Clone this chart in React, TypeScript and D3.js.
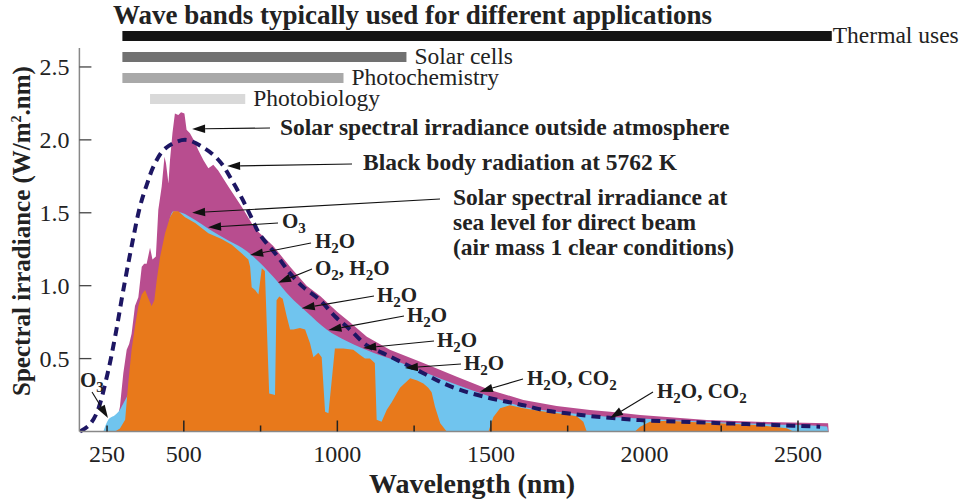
import React from 'react';
import * as d3 from 'd3';

type Pt = [number, number];

// wavelength (nm), spectral irradiance (W/m².nm)
const outsideAtmosphere: Pt[] = [
  [200, 0], [233, 0], [260, 0.01], [280, 0.05], [292, 0.17], [303, 0.4], [314, 0.56], [322, 0.6],
  [330, 0.67], [341, 0.86], [352, 0.92], [363, 1.13], [371, 1.15], [379, 1.15], [390, 1.26],
  [398, 1.18], [409, 1.2], [417, 1.52], [428, 1.68], [437, 1.885], [442, 1.84], [450, 1.7],
  [455, 1.86], [463, 2.045], [471, 2.18], [482, 2.17], [491, 2.19], [502, 2.18], [509, 2.07],
  [520, 2.045], [537, 1.98], [547, 1.93], [564, 1.86], [580, 1.805], [596, 1.83], [612, 1.79],
  [645, 1.68], [689, 1.54], [732, 1.39], [792, 1.27], [846, 1.13], [900, 1.0], [944, 0.93],
  [1000, 0.82], [1041, 0.75], [1096, 0.65], [1171, 0.56], [1280, 0.47], [1389, 0.376],
  [1497, 0.285], [1606, 0.216], [1714, 0.175], [1823, 0.147], [1888, 0.136], [1986, 0.113],
  [2203, 0.079], [2400, 0.065], [2598, 0.056], [2600, 0],
];

const blackBody: Pt[] = [
  [162, 0], [190, 0.04], [216, 0.125], [252, 0.4], [278, 0.67], [303, 0.97], [330, 1.27],
  [357, 1.54], [379, 1.69], [404, 1.83], [439, 1.94], [504, 2.0], [569, 1.94], [618, 1.85],
  [656, 1.725], [689, 1.6], [716, 1.485], [748, 1.35], [802, 1.21], [846, 1.085], [889, 0.99],
  [944, 0.9], [992, 0.79], [1041, 0.7], [1096, 0.59], [1150, 0.536], [1204, 0.48], [1280, 0.4],
  [1335, 0.34], [1400, 0.285], [1475, 0.24], [1552, 0.204], [1606, 0.18], [1671, 0.147],
  [1747, 0.125], [1823, 0.106], [1986, 0.078], [2159, 0.064], [2289, 0.054], [2419, 0.045],
  [2572, 0.033],
];

// sea level without the molecular absorption bands (top of the blue)
const seaLevelClear: Pt[] = [
  [238, 0], [254, 0.08], [276, 0.113], [292, 0.15], [305, 0.2], [330, 0.3], [400, 0.7],
  [466, 1.51], [493, 1.5], [537, 1.45], [580, 1.39], [645, 1.31], [689, 1.26], [726, 1.2],
  [792, 1.06], [846, 0.925], [900, 0.82], [965, 0.7], [1030, 0.62], [1117, 0.54], [1171, 0.5],
  [1280, 0.41], [1389, 0.32], [1497, 0.24], [1606, 0.17], [1714, 0.136], [1823, 0.113],
  [1888, 0.1], [1986, 0.09], [2203, 0.067], [2400, 0.05], [2594, 0.035], [2598, 0],
];

// sea level, direct beam, air mass 1
const seaLevel: Pt[] = [
  [276, 0], [292, 0.02], [309, 0.08], [319, 0.33], [330, 0.56], [341, 0.72], [352, 0.86],
  [363, 0.94], [374, 0.97], [382, 0.925], [395, 0.86], [404, 0.9], [412, 1.04], [423, 1.2],
  [439, 1.36], [455, 1.47], [466, 1.51], [482, 1.51], [504, 1.47], [537, 1.43], [580, 1.36],
  [623, 1.32], [656, 1.28], [689, 1.22], [710, 1.18], [716, 1.13], [721, 0.99], [732, 0.97],
  [743, 0.94], [754, 1.12], [764, 1.1], [778, 0.26], [797, 0.25], [802, 0.9], [811, 0.925],
  [822, 0.91], [835, 0.79], [846, 0.7], [857, 0.7], [878, 0.71], [895, 0.7], [911, 0.605],
  [922, 0.51], [938, 0.54], [949, 0.51], [960, 0.136], [971, 0.125], [992, 0.57], [1019, 0.57],
  [1052, 0.56], [1074, 0.525], [1090, 0.5], [1106, 0.5], [1122, 0.47], [1128, 0.08],
  [1144, 0.067], [1161, 0.15], [1177, 0.2], [1204, 0.3], [1237, 0.365], [1260, 0.35],
  [1280, 0.33], [1296, 0.3], [1307, 0.27], [1318, 0.17], [1335, 0.056], [1356, 0], [1492, 0],
  [1508, 0.1], [1530, 0.16], [1562, 0.18], [1606, 0.16], [1660, 0.14], [1736, 0.12],
  [1779, 0.105], [1801, 0.067], [1812, 0], [1969, 0], [1986, 0.033], [2018, 0.067],
  [2072, 0.074], [2203, 0.06], [2365, 0.045], [2463, 0.022], [2485, 0],
];

const bandNames = ['Thermal uses', 'Solar cells', 'Photochemistry', 'Photobiology'];
const bandStart = [300, 300, 300, 390];
const bandEnd = [2610, 1225, 1020, 700];
const bandColors = ['#141414', '#717171', '#a9a9a9', '#d9d9d9'];

const xTicks = [250, 500, 750, 1000, 1250, 1500, 1750, 2000, 2250, 2500];
const xTickLabels = ['250', '500', '', '1000', '', '1500', '', '2000', '', '2500'];
const yTicks = [0.5, 1.0, 1.5, 2.0, 2.5];

const annotations = [
  { text: ['Solar spectral irradiance outside atmosphere'], x: 280, y: 135, from: [270, 128], tip: [527, 2.075] },
  { text: ['Black body radiation at 5762 K'], x: 363, y: 170, from: [352, 164], tip: [641, 1.82] },
  {
    text: ['Solar spectral irradiance at', 'sea level for direct beam', '(air mass 1 clear conditions)'],
    x: 453, y: 205, from: [440, 199], tip: [527, 1.5],
  },
  { text: ['O3'], x: 282, y: 228, from: [278, 223], tip: [579, 1.4] },
  { text: ['H2O'], x: 315, y: 248, from: [311, 243], tip: [716, 1.21] },
  { text: ['O2, H2O'], x: 315, y: 275, from: [312, 269], tip: [807, 1.02] },
  { text: ['H2O'], x: 377, y: 302, from: [374, 296], tip: [884, 0.845] },
  { text: ['H2O'], x: 407, y: 322, from: [404, 316], tip: [971, 0.696] },
  { text: ['H2O'], x: 437, y: 347, from: [434, 341], tip: [1084, 0.573] },
  { text: ['H2O'], x: 464, y: 370, from: [461, 364], tip: [1220, 0.436] },
  { text: ['H2O, CO2'], x: 527, y: 385, from: [523, 379], tip: [1464, 0.273] },
  { text: ['H2O, CO2'], x: 657, y: 398, from: [653, 392], tip: [1888, 0.093] },
  { text: ['O3'], x: 80, y: 387, from: [92, 392], tip: [253, 0.093] },
];

const SERIF = '"Liberation Serif", "Times New Roman", serif';

// digits right after a letter become subscripts (H2O, CO2, O3)
function formula(str: string, big: number, small: number) {
  if (!/[A-Z][0-9]/.test(str)) return str;
  const parts: React.ReactNode[] = [];
  const re = /([A-Z])([0-9])/g;
  let last = 0;
  let sub = false;
  let m: RegExpExecArray | null;
  let k = 0;
  while ((m = re.exec(str))) {
    const head = str.slice(last, m.index + 1);
    parts.push(<tspan key={k++} dy={sub ? -5 : 0} fontSize={big}>{head}</tspan>);
    parts.push(<tspan key={k++} dy={5} fontSize={small}>{m[2]}</tspan>);
    sub = true;
    last = m.index + 2;
  }
  if (last < str.length) parts.push(<tspan key={k++} dy={-5} fontSize={big}>{str.slice(last)}</tspan>);
  return parts;
}

const App: React.FC = () => {
  const width = 963;
  const height = 499;

  const x = d3.scaleLinear().domain([160, 2600]).range([79.4, 828.7]);
  const y = d3.scaleLinear().domain([0, 2.63]).range([431.5, 48]);

  const area = d3.area<Pt>().x(d => x(d[0])).y0(y(0)).y1(d => y(d[1]));
  const smoothArea = d3.area<Pt>().x(d => x(d[0])).y0(y(0)).y1(d => y(d[1])).curve(d3.curveMonotoneX);
  const bbLine = d3.line<Pt>().x(d => x(d[0])).y(d => y(d[1])).curve(d3.curveCatmullRom);

  // four bars, 10px thick on a 21px step
  const bandY = d3.scaleBand<number>().domain([0, 1, 2, 3]).range([31, 104]).paddingInner(11 / 21);

  return (
    <svg width={width} height={height} style={{ position: 'absolute', left: 0, top: 0, background: '#fff' }}
      fontFamily={SERIF}>
      {/* spectra */}
      <path d={area(outsideAtmosphere)!} fill="#b84d8f" />
      <path d={smoothArea(seaLevelClear)!} fill="#70c4ee" />
      <path d={area(seaLevel)!} fill="#e8791b" />
      <path d={bbLine(blackBody)!} fill="none" stroke="#1d1663" strokeWidth={4} strokeDasharray="9,6" />

      {/* axes */}
      <line x1={x(160)} x2={x(160)} y1={y(2.63)} y2={y(0)} stroke="#888" strokeWidth={1.5} />
      <line x1={x(160)} x2={x(2600)} y1={y(0)} y2={y(0)} stroke="#888" strokeWidth={1.5} />
      {yTicks.map(t => (
        <g key={t}>
          <line x1={x(160)} x2={x(160) + 12} y1={y(t)} y2={y(t)} stroke="#444" strokeWidth={1.3} />
          <text x={x(160) - 10} y={y(t) + 8} textAnchor="end" fontSize={24} fill="#222">{t.toFixed(1)}</text>
        </g>
      ))}
      {xTicks.map((t, i) => (
        <g key={t}>
          <line x1={x(t)} x2={x(t)} y1={y(0)} y2={y(0) - (t % 500 === 0 ? 11 : 6)} stroke="#222" strokeWidth={1.5} />
          <text x={x(t)} y={462} textAnchor="middle" fontSize={24} fill="#222">{xTickLabels[i]}</text>
        </g>
      ))}
      <text x={472} y={493} textAnchor="middle" fontSize={28} fontWeight="bold" fill="#222">Wavelength (nm)</text>
      <text transform="translate(30,231) rotate(-90)" textAnchor="middle" fontSize={25} fontWeight="bold" fill="#222">
        Spectral irradiance (W/m<tspan fontSize={14} dy={-9}>2</tspan><tspan dy={9}>.nm)</tspan>
      </text>

      {/* wave bands */}
      <text x={113} y={24} fontSize={27} fontWeight="bold" fill="#222">Wave bands typically used for different applications</text>
      {bandNames.map((name, i) => (
        <g key={name}>
          <rect x={x(bandStart[i])} y={bandY(i)} width={x(bandEnd[i]) - x(bandStart[i])} height={bandY.bandwidth()}
            fill={bandColors[i]} />
          <text x={x(bandEnd[i]) + (i === 0 ? 1 : 8)} y={bandY(i)! + bandY.bandwidth() + 2} fontSize={23.5} fill="#222">
            {name}
          </text>
        </g>
      ))}

      {/* annotations */}
      {annotations.map((a, i) => {
        const tx = x(a.tip[0]);
        const ty = y(a.tip[1]);
        const dx = tx - a.from[0];
        const dy = ty - a.from[1];
        const len = Math.hypot(dx, dy);
        const ux = dx / len;
        const uy = dy / len;
        const L = 13;
        const W = 4.2;
        const bx = tx - ux * L;
        const by = ty - uy * L;
        const head = `${tx},${ty} ${bx - uy * W},${by + ux * W} ${bx + uy * W},${by - ux * W}`;
        const isFormula = a.text.length === 1 && a.text[0].length <= 10;
        return (
          <g key={i}>
            <line x1={a.from[0]} y1={a.from[1]} x2={bx} y2={by} stroke="#111" strokeWidth={1.1} />
            <polygon points={head} fill="#111" />
            {a.text.map((line, j) => (
              <text key={j} x={a.x} y={a.y + j * 25} fontSize={isFormula ? 21 : 23.5}
                fontWeight="bold" fill="#222">
                {formula(line, 21, 15)}
              </text>
            ))}
          </g>
        );
      })}
    </svg>
  );
};

export default App;
